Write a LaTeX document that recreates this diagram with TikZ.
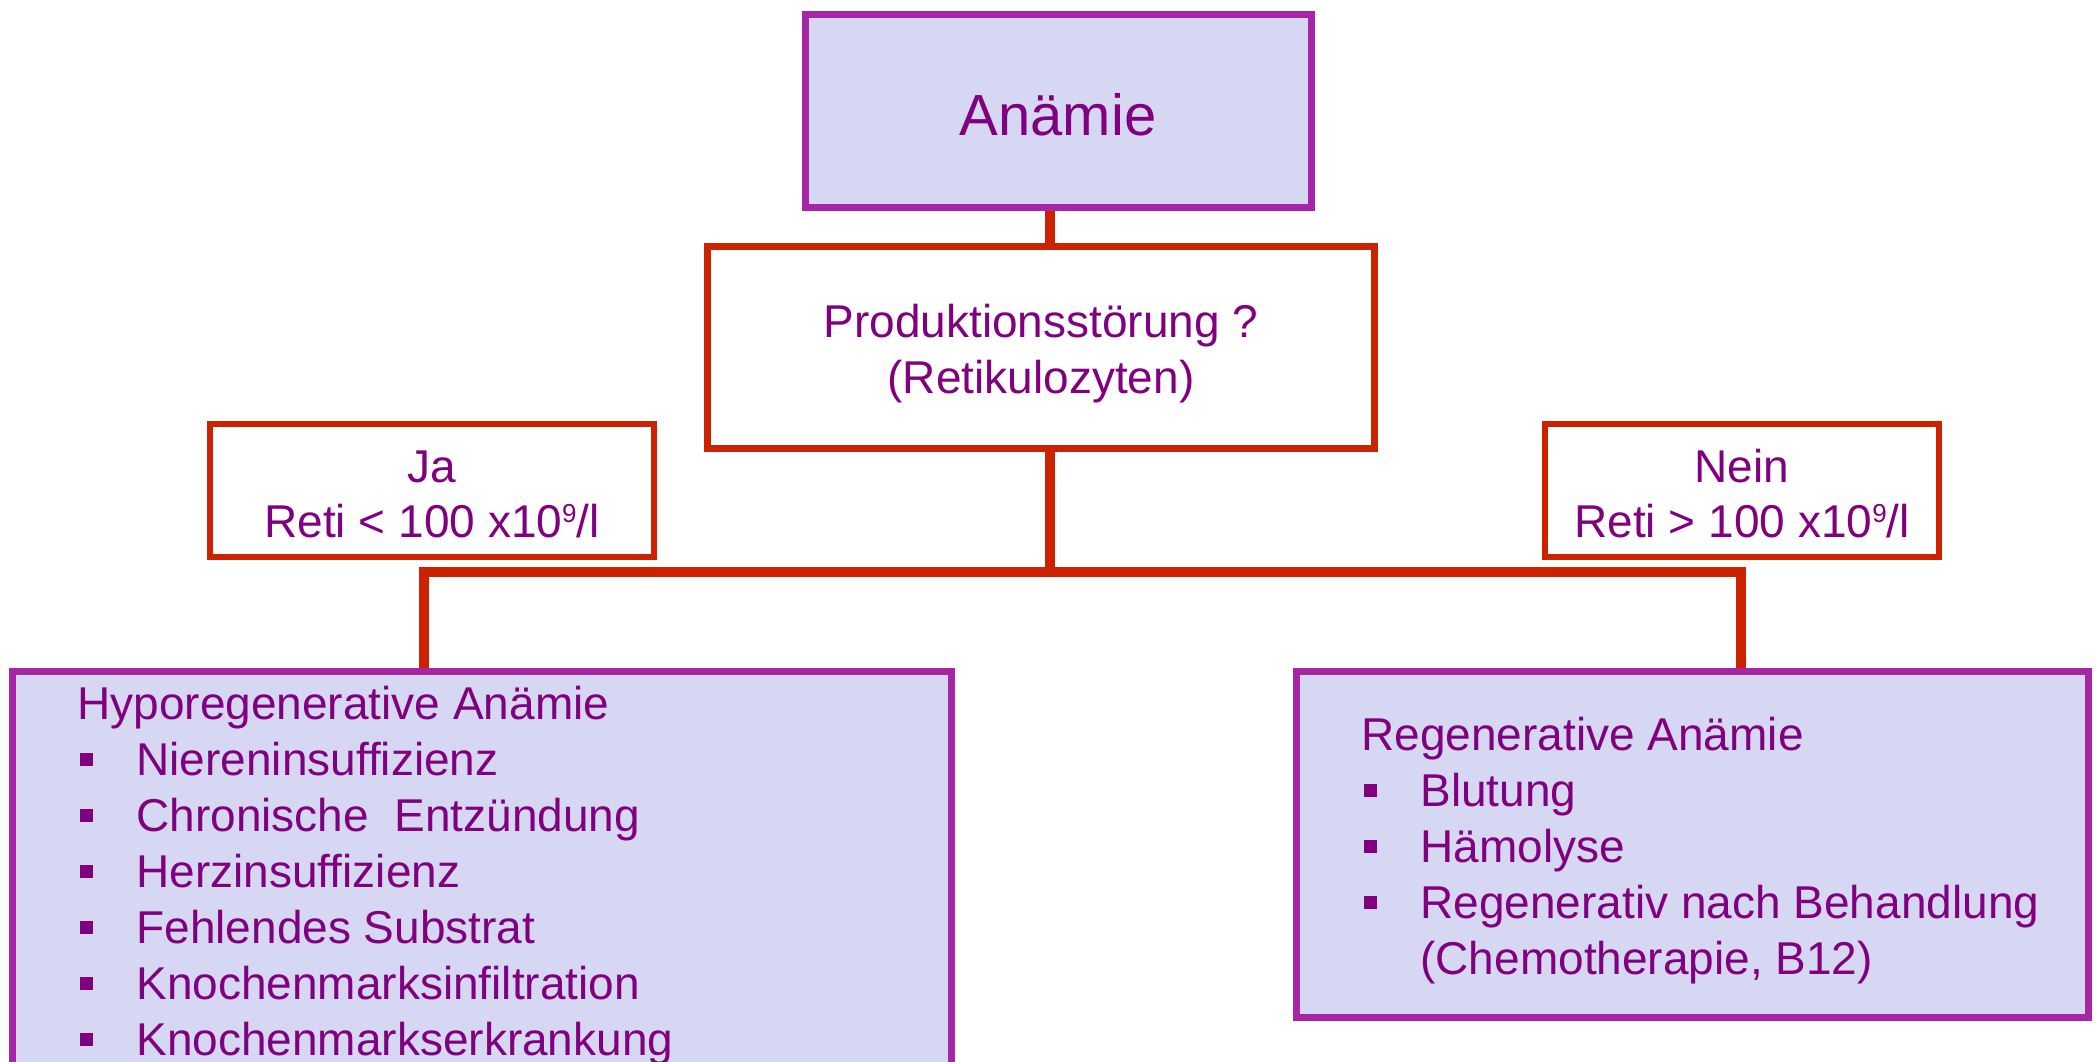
\documentclass[tikz,border=0pt]{standalone}
\usepackage{fontspec}
\setmainfont{Liberation Sans}
\usetikzlibrary{backgrounds}
\definecolor{txtpurple}{RGB}{128,0,128}
\definecolor{bordpurple}{RGB}{166,38,166}
\definecolor{lav}{RGB}{214,215,242}
\definecolor{redline}{RGB}{204,34,0}
\newcommand\sqbul{\hspace*{1.5pt}\rule[4.5pt]{6.5pt}{6.5pt}\hspace*{21.5pt}}
\newcommand\supnine{\raisebox{7.5pt}{\fontsize{13pt}{13pt}\selectfont 9}}
\begin{document}
\begin{tikzpicture}[x=0.5pt,y=-0.5pt,
  pbox/.style={draw=bordpurple, fill=lav, line width=3.5pt, rectangle, inner sep=0pt},
  rbox/.style={draw=redline, fill=white, line width=3.5pt, rectangle, inner sep=0pt},
  txt/.style={text=txtpurple, inner sep=0pt, font=\fontsize{23pt}{28pt}\selectfont},
  conn/.style={draw=redline, line width=5pt, line join=miter}]
\useasboundingbox (0,0) rectangle (2096,1061);

% boxes
\node[pbox, minimum width=253pt, minimum height=96.5pt] (anaemie) at (1058.5,111) {};
\node[rbox, minimum width=333.5pt, minimum height=101pt] (prod) at (1041,347.5) {};
\node[rbox, line width=3pt, minimum width=222pt, minimum height=66.5pt] (ja) at (432,490.5) {};
\node[rbox, line width=3pt, minimum width=197pt, minimum height=66.5pt] (nein) at (1742,490.5) {};
\node[pbox, minimum width=469.5pt, minimum height=222.5pt] (hypo) at (482,894) {};
\node[pbox, minimum width=396pt, minimum height=173pt] (regen) at (1692.5,844.5) {};

% junction points
\coordinate (jc) at (1050,572);
\coordinate (jl) at (424,572);
\coordinate (jr) at (1741,572);

\begin{pgfonlayer}{background}
  \fill[white] (0,0) rectangle (2096,1061);
  \draw[conn] (anaemie.south -| jc) -- (prod.north -| jc);
  \draw[conn] (prod.south -| jc) -- (jc);
  \draw[conn] (hypo.north -| jl) -- (jl) -- (jr) -- (regen.north -| jr);
\end{pgfonlayer}

% texts
\node[txt, font=\fontsize{29pt}{34pt}\selectfont, anchor=base] (t0) at (1058,135) {Anämie};
\node[txt, anchor=base] (t1) at (1041,337) {Produktionsstörung ?};
\node[txt, anchor=base] (t2) at (1041,393) {(Retikulozyten)};
\node[txt, anchor=base] (t3) at (432,482) {Ja};
\node[txt, anchor=base] (t4) at (432,537) {Reti < 100 x10\supnine/l};
\node[txt, anchor=base] (t5) at (1742,482) {Nein};
\node[txt, anchor=base] (t6) at (1742,537) {Reti > 100 x10\supnine/l};

\node[txt, anchor=base west] (h0) at (77,719) {Hyporegenerative Anämie};
\foreach \t [count=\i] in {Niereninsuffizienz, Chronische\ \ Entzündung, Herzinsuffizienz, Fehlendes Substrat, Knochenmarksinfiltration, Knochenmarkserkrankung}
  \node[txt, anchor=base west] (h\i) at (77,{719+56*\i}) {\sqbul\t};

\node[txt, anchor=base west] (r0) at (1361,750) {Regenerative Anämie};
\foreach \t [count=\i] in {Blutung, Hämolyse, Regenerativ nach Behandlung}
  \node[txt, anchor=base west] (r\i) at (1361,{750+56*\i}) {\sqbul\t};
\node[txt, anchor=base west] (r4) at (1361,974) {\hspace*{29.5pt}(Chemotherapie, B12)};
\end{tikzpicture}
\end{document}
